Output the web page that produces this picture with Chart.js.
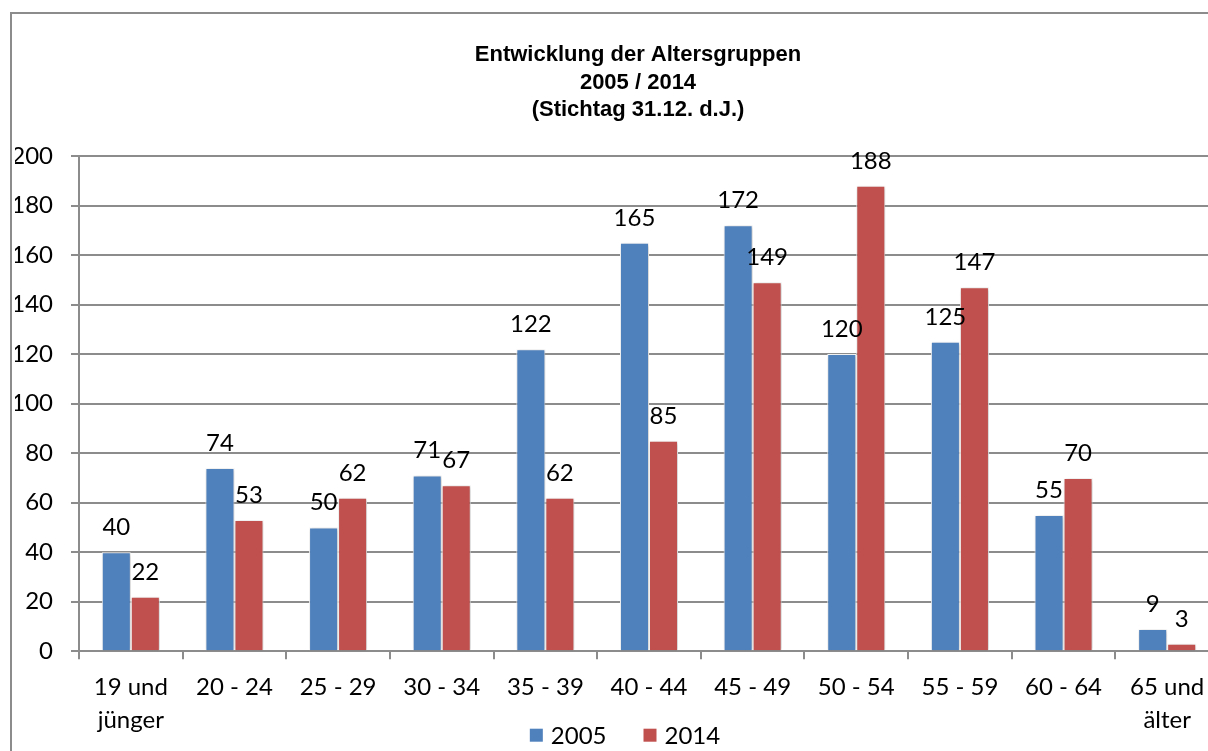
<!DOCTYPE html>
<html>
<head>
<meta charset="utf-8">
<script src="https://cdn.jsdelivr.net/npm/chart.js@4"></script>
<style>
    html, body { margin: 0; padding: 0; overflow: hidden; background: #fff; }
    #frame {
        position: absolute; left: 10px; top: 12px;
        width: 1300px; height: 800px;
        border: 2px solid #8c8c8c;
    }
    #myChart { position: absolute; left: 12px; top: 14px; }
</style>
</head>
<body>
<div id="frame"></div>
<canvas id="myChart" width="1252" height="770"></canvas>
<script>
// chart data
const categories = [
    ['19 und', 'jünger'], '20 - 24', '25 - 29', '30 - 34', '35 - 39', '40 - 44',
    '45 - 49', '50 - 54', '55 - 59', '60 - 64', ['65 und', 'älter']
];
const values2005 = [40, 74, 50, 71, 122, 165, 172, 120, 125, 55, 9];
const values2014 = [22, 53, 62, 67, 62, 85, 149, 188, 147, 70, 3];
const seriesNames = ['2005', '2014'];
const seriesColors = ['#4F81BD', '#C0504D'];
const titleLines = ['Entwicklung der Altersgruppen', '2005 / 2014', '(Stichtag 31.12. d.J.)'];

const labelFont = 'Lato, "Open Sans", sans-serif';

// draws the 3 line title, centered on the whole frame
const titlePlugin = {
    id: 'titleLines',
    afterDraw(chart) {
        const ctx = chart.ctx;
        ctx.save();
        ctx.font = 'bold 22px "Liberation Sans", Arial, sans-serif';
        ctx.fillStyle = '#000';
        ctx.textAlign = 'center';
        ctx.textBaseline = 'middle';
        titleLines.forEach((line, i) => {
            ctx.fillText(line, chart.width / 2, 41 + i * 27.5);
        });
        ctx.restore();
    }
};

// legend sits inside the label band, like the original
const bottomLegend = {
    id: 'bottomLegend',
    afterDraw(chart) {
        const ctx = chart.ctx;
        ctx.save();
        ctx.font = '24px ' + labelFont;
        ctx.textBaseline = 'middle';
        ctx.textAlign = 'left';
        const box = 13, gap = 8, itemGap = 37;
        const widths = seriesNames.map(n => ctx.measureText(n).width);
        const total = widths.reduce((a, w) => a + box + gap + w, 0) + itemGap * (seriesNames.length - 1);
        let x = chart.width / 2 - 13 - total / 2;
        const y = chart.chartArea.bottom + 84;
        seriesNames.forEach((name, i) => {
            ctx.fillStyle = seriesColors[i];
            ctx.fillRect(x, y - box / 2, box, box);
            ctx.fillStyle = '#000';
            ctx.fillText(name, x + box + gap, y + 1);
            x += box + gap + widths[i] + itemGap;
        });
        ctx.restore();
    }
};

// value labels above the bars
const valueLabels = {
    id: 'valueLabels',
    afterDatasetsDraw(chart) {
        const ctx = chart.ctx;
        ctx.save();
        ctx.font = '24px ' + labelFont;
        ctx.fillStyle = '#000';
        ctx.textAlign = 'center';
        ctx.textBaseline = 'alphabetic';
        chart.data.datasets.forEach((ds, i) => {
            chart.getDatasetMeta(i).data.forEach((bar, j) => {
                ctx.fillText(ds.data[j], bar.x, bar.y - 17);
            });
        });
        ctx.restore();
    }
};

// soft shadow behind the bars
const barShadow = {
    id: 'barShadow',
    beforeDatasetsDraw(chart) {
        const ctx = chart.ctx;
        ctx.save();
        ctx.shadowColor = 'rgba(0, 0, 0, 0.25)';
        ctx.shadowBlur = 4;
        ctx.shadowOffsetX = 1;
        ctx.shadowOffsetY = 1;
    },
    afterDatasetsDraw(chart) {
        chart.ctx.restore();
    }
};

const ctx = document.getElementById('myChart').getContext('2d');
new Chart(ctx, {
    type: 'bar',
    data: {
        labels: categories,
        datasets: seriesNames.map((name, i) => ({
            label: name,
            data: i === 0 ? values2005 : values2014,
            backgroundColor: seriesColors[i],
            borderColor: '#ffffff',
            borderWidth: 1
        }))
    },
    options: {
        responsive: false,
        animation: false,
        layout: {
            padding: { top: 142, left: 3, right: 45, bottom: 36 }
        },
        datasets: {
            bar: { categoryPercentage: 0.56, barPercentage: 1.0 }
        },
        plugins: {
            legend: { display: false },
            tooltip: { enabled: false }
        },
        scales: {
            x: {
                grid: {
                    drawOnChartArea: false,
                    drawTicks: true,
                    tickLength: 8,
                    color: '#8c8c8c',
                    lineWidth: 2
                },
                border: { display: false },
                ticks: {
                    color: '#000',
                    padding: 12,
                    maxRotation: 0,
                    autoSkip: false,
                    font: { family: labelFont, size: 24, lineHeight: 1.35 }
                },
                afterFit(scale) {
                    // no extra side padding for the first / last label
                    scale.paddingLeft = 0;
                    scale.paddingRight = 0;
                }
            },
            y: {
                min: 0,
                max: 200,
                ticks: {
                    stepSize: 20,
                    color: '#000',
                    padding: 18,
                    font: { family: labelFont, size: 24 }
                },
                grid: {
                    color: '#8c8c8c',
                    lineWidth: 2,
                    tickLength: 8
                },
                border: { display: true, color: '#8c8c8c', width: 2 },
                afterFit(scale) {
                    scale.width = 64;
                }
            }
        }
    },
    plugins: [barShadow, valueLabels, titlePlugin, bottomLegend]
});
</script>
</body>
</html>
